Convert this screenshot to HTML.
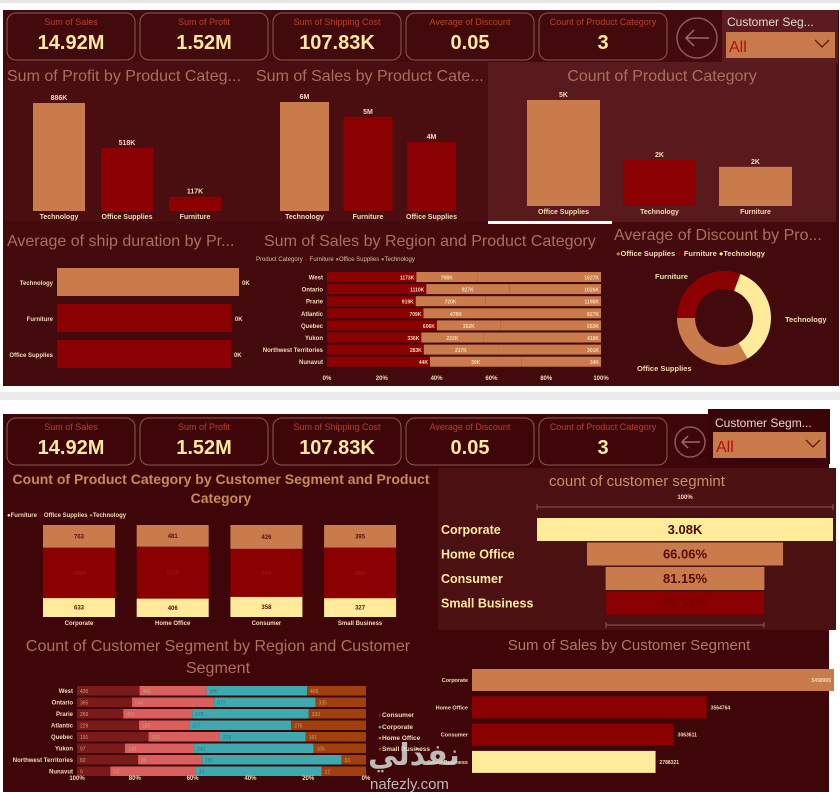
<!DOCTYPE html>
<html><head><meta charset="utf-8"><style>
html,body{margin:0;padding:0;background:#fff;width:840px;height:792px;overflow:hidden}
svg{display:block;font-family:"Liberation Sans","DejaVu Sans",sans-serif}
.lbl{font-size:9px;fill:#b8412a;text-anchor:middle}
.val{font-size:20px;font-weight:bold;fill:#ffe8a0;text-anchor:middle}
.ttl{font-size:16px;fill:#a8705f}
.cat{font-size:7px;font-weight:bold;fill:#f3dcb4}
</style></head><body>
<svg id="s" width="840" height="792" viewBox="0 0 840 792">
<rect x="0" y="0" width="840" height="3" fill="#e6e6e6"/>
<rect x="3" y="10" width="836" height="376" fill="#420a0d"/>
<rect x="5" y="62" width="483" height="160" fill="#4a0d10"/>
<rect x="488" y="62" width="348" height="160" fill="#581a1c"/>
<rect x="488" y="221" width="124" height="3" fill="#fff"/>
<rect x="0" y="392" width="840" height="8" fill="#ececec"/>
<rect x="3" y="414" width="826" height="378" fill="#3e0609"/>
<rect x="438" y="468" width="398" height="162" fill="#4a1012"/>
<rect x="708" y="409" width="122" height="55" fill="#3a0508"/>
<rect x="722" y="10" width="116" height="53" fill="#5a1c20"/>

<g id="kpiTop"></g>
<g id="kpiBot"></g>

<g><circle cx="697" cy="38" r="20" fill="none" stroke="#8a5a5a" stroke-width="1.5"/><path d="M709 38 H686 M694 30 L686 38 L694 46" fill="none" stroke="#9a6a6a" stroke-width="1.5"/></g>
<text x="727" y="26" font-size="12" fill="#e6d6d6">Customer Seg...</text>
<g><rect x="726" y="32" width="109" height="26" fill="#c97a4a"/><text x="729" y="52" font-size="16" fill="#b01010">All</text><path d="M815 40 L822 47 L829 40" fill="none" stroke="#5a1a10" stroke-width="1.3"/></g>

<g><circle cx="690" cy="442" r="15" fill="none" stroke="#8a5a5a" stroke-width="1.5"/><path d="M700 442 H682 M688 436 L682 442 L688 448" fill="none" stroke="#9a6a6a" stroke-width="1.5"/></g>
<text x="715" y="427" font-size="12" fill="#e6d6d6">Customer Segm...</text>
<g><rect x="713" y="432" width="113" height="26" fill="#c97a4a"/><text x="716" y="452" font-size="16" fill="#b01010">All</text><path d="M806 440 L813 447 L820 440" fill="none" stroke="#5a1a10" stroke-width="1.3"/></g>

<text class="ttl" x="7" y="81">Sum of Profit by Product Categ...</text>
<text class="ttl" x="256" y="81">Sum of Sales by Product Cate...</text>
<text class="ttl" x="662" y="81" text-anchor="middle">Count of Product Category</text>
<text class="ttl" x="7" y="246">Average of ship duration by Pr...</text>
<text class="ttl" x="264" y="246">Sum of Sales by Region and Product Category</text>
<text class="ttl" x="614" y="240">Average of Discount by Pro...</text>
<text x="256" y="261" font-size="6" fill="#d8c0a0">Product Category <tspan fill="#8b0000">●</tspan> Furniture <tspan fill="#c97b4b">●</tspan>Office Supplies <tspan fill="#c97b4b">●</tspan>Technology</text>
<text x="616" y="256" font-size="7.5" font-weight="bold" fill="#f3dcb4"><tspan fill="#c97b4b">●</tspan>Office Supplies <tspan fill="#8b0000">●</tspan> Furniture <tspan fill="#ffeb99">●</tspan>Technology</text>

<text x="221" y="484" font-size="14" font-weight="bold" fill="#c98a5a" text-anchor="middle">Count of Product Category by Customer Segment and Product</text>
<text x="221" y="503" font-size="14" font-weight="bold" fill="#c98a5a" text-anchor="middle">Category</text>
<text x="7" y="517" font-size="6" font-weight="bold" fill="#f3dcb4"><tspan fill="#ffeb99">●</tspan>Furniture <tspan fill="#8b0000">●</tspan> Office Supplies <tspan fill="#c97b4b">●</tspan>Technology</text>
<text x="637" y="486" font-size="15" fill="#c9906a" text-anchor="middle">count of customer segmint</text>
<text x="629" y="650" font-size="15" fill="#b07a68" text-anchor="middle">Sum of Sales by Customer Segment</text>
<text x="218" y="651" font-size="16" fill="#b07060" text-anchor="middle">Count of Customer Segment by Region and Customer</text>
<text x="218" y="673" font-size="16" fill="#b07060" text-anchor="middle">Segment</text>
<g font-size="6.5" font-weight="bold" fill="#f3dcb4">
<text x="378" y="717"><tspan fill="#7a1a1a">●</tspan>Consumer</text>
<text x="378" y="729"><tspan fill="#3fa9b0">●</tspan>Corporate</text>
<text x="378" y="740"><tspan fill="#d9605e">●</tspan>Home Office</text>
<text x="378" y="751"><tspan fill="#a0400e">●</tspan>Small Business</text></g>
<g id="charts"></g>
<text x="368" y="765" font-size="30" font-weight="bold" fill="#d8d8d8" fill-opacity="0.85">نفذلي</text>
<text x="370" y="789" font-size="15" fill="#d8d8d8" fill-opacity="0.85">nafezly.com</text>
</svg>
<script>
// ---- data ----
const kpiLabels=['Sum of Sales','Sum of Profit','Sum of Shipping Cost','Average of Discount','Count of Product Category'];
const kpiValues=['14.92M','1.52M','107.83K','0.05','3'];
const profitCats=['Technology','Office Supplies','Furniture'];
const profitVals=[886,518,117];
const profitLbls=['886K','518K','117K'];
const salesCats=['Technology','Furniture','Office Supplies'];
const salesVals=[5.98,5.17,3.78];
const salesLbls=['6M','5M','4M'];
const countCats=['Office Supplies','Technology','Furniture'];
const countVals=[4.6,2.0,1.7];
const countLbls=['5K','2K','2K'];
const shipCats=['Technology','Furniture','Office Supplies'];
const shipVals=[2.04,1.96,1.95];
const shipLbls=['0K','0K','0K'];
const regions=['West','Ontario','Prarie','Atlantic','Quebec','Yukon','Northwest Territories','Nunavut'];
const regFurn=[1173,1110,919,709,606,336,283,44];
const regOffice=[798,927,720,478,352,222,217,39];
const regTech=[1627,1026,1198,827,553,418,301,34];
const axisPct=['0%','20%','40%','60%','80%','100%'];
const discCats=['Furniture','Technology','Office Supplies'];
const discVals=[0.046,0.054,0.050];
const segs=['Corporate','Home Office','Consumer','Small Business'];
const segTech=[763,481,426,395];
const segOffice=[1684,1148,856,880];
const segFurn=[633,406,358,327];
const funnelVals=[3080,2040,1652,1645];
const funnelLbls=['3.08K','66.06%','81.15%','99.58%'];
const segSales=[5498905,3564764,3063611,2788321];
const consumer=[430,365,269,229,191,97,82,9];
const homeOffice=[460,544,401,185,191,140,86,23];
const corporate=[690,672,678,377,229,242,187,34];
const smallBiz=[405,335,333,276,161,106,33,12];
const axisPctRev=['100%','80%','60%','40%','20%','0%'];

const NS='http://www.w3.org/2000/svg';
const G=document.getElementById('charts');
function mk(tag,a,p){const e=document.createElementNS(NS,tag);for(const k in a)e.setAttribute(k,a[k]);(p||G).appendChild(e);return e;}
function tx(x,y,s,a,p){const e=mk('text',Object.assign({x:x,y:y},a),p);e.textContent=s;return e;}
const OR='#c97b4b',RD='#8b0000',YL='#ffeb99',TXT='#f3dcb4';

// KPI cards
[['kpiTop',13],['kpiBot',418]].forEach(([id,y0])=>{
  const g=document.getElementById(id);
  kpiLabels.forEach((l,i)=>{
    const x=7+i*133;
    const r=mk('rect',{x:x,y:y0,width:128,height:47,rx:9,fill:'none',stroke:'#8a5a50','stroke-width':1},g);
    
    
    const t=tx(x+64,y0+12,l,{class:'lbl'},g);
    
    
    const v=tx(x+64,y0+36,kpiValues[i],{class:'val'},g);
    
    
  });
});

// vertical bar chart helper
function vbars(cats,vals,lbls,base,maxH,maxV,x0,step,w,colors,name){
  cats.forEach((c,i)=>{
    const h=vals[i]/maxV*maxH,x=x0+i*step;
    const b=mk('rect',{x:x,y:base-h,width:w,height:h,fill:colors[i]});
    
    
    const l=tx(x+w/2,base-h-3,lbls[i],{'font-size':7,'font-weight':'bold',fill:TXT,'text-anchor':'middle'});
    
    
    const cl=tx(x+w/2,base+8,c,{'font-size':7,'font-weight':'bold',fill:TXT,'text-anchor':'middle'});
    
    
  });
}
vbars(profitCats,profitVals,profitLbls,211,108,886,33,68,52,[OR,RD,RD],'profit');
vbars(salesCats,salesVals,salesLbls,211,109,5.98,280,63.5,49,[OR,RD,RD],'sales');
vbars(countCats,countVals,countLbls,206,106,4.6,527,96,73,[OR,RD,OR],'count');

// ship duration
shipCats.forEach((c,i)=>{
  const y=268+i*36,w=shipVals[i]/2.04*182;
  const b=mk('rect',{x:57,y:y,width:w,height:28,fill:i==0?OR:RD});
  
  
  const l=tx(53,y+17,c,{'font-size':6,'font-weight':'bold',fill:TXT,'text-anchor':'end'});
  
  
  const v=tx(57+w+3,y+17,shipLbls[i],{'font-size':6,'font-weight':'bold',fill:TXT});
  
  
});

// region 100% stacked
const rx0=327,rw=274;
regions.forEach((r,i)=>{
  const y=272+i*12.1,tot=regFurn[i]+regOffice[i]+regTech[i];
  const fw=regFurn[i]/tot*rw,ow=regOffice[i]/tot*rw,tw=regTech[i]/tot*rw;
  const a=mk('rect',{x:rx0,y:y,width:fw,height:10,fill:RD});
  
  
  const b=mk('rect',{x:rx0+fw,y:y,width:ow,height:10,fill:OR});
  
  
  const c=mk('rect',{x:rx0+fw+ow,y:y,width:tw,height:10,fill:OR});
  
  
  const l=tx(323,y+7.5,r,{'font-size':6,'font-weight':'bold',fill:TXT,'text-anchor':'end'});
  
  
  const t1=tx(rx0+fw-2,y+7.5,regFurn[i]+'K',{'font-size':5,'font-weight':'bold',fill:TXT,'text-anchor':'end'});
  
  
  const t2=tx(rx0+fw+ow/2,y+7.5,regOffice[i]+'K',{'font-size':5,'font-weight':'bold',fill:TXT,'text-anchor':'middle'});
  
  
  const t3=tx(rx0+rw-2,y+7.5,regTech[i]+'K',{'font-size':5,'font-weight':'bold',fill:TXT,'text-anchor':'end'});
  
  
});
axisPct.forEach((p,i)=>{
  const t=tx(rx0+i*rw/5,380,p,{'font-size':6,'font-weight':'bold',fill:TXT,'text-anchor':'middle'});
  
  
});

// donut
(function(){
  const cx=724,cy=318,R=47,r=29,tot=discVals.reduce((a,b)=>a+b,0);
  let ang=-Math.PI; const cols=[RD,YL,OR];
  discVals.forEach((v,i)=>{
    const a2=ang+v/tot*2*Math.PI,lg=(a2-ang)>Math.PI?1:0;
    const p=(rr,a)=>[cx+rr*Math.sin(a+Math.PI/2)*-1*-1,cy-rr*Math.cos(a+Math.PI/2)];
    const P=(rr,a)=>[cx+rr*Math.cos(a),cy+rr*Math.sin(a)];
    const [x1,y1]=P(R,ang),[x2,y2]=P(R,a2),[x3,y3]=P(r,a2),[x4,y4]=P(r,ang);
    const s=mk('path',{d:`M${x1} ${y1} A${R} ${R} 0 ${lg} 1 ${x2} ${y2} L${x3} ${y3} A${r} ${r} 0 ${lg} 0 ${x4} ${y4}Z`,fill:cols[i]});
    
    
    ang=a2;
  });
  const lp=[[655,279,'start'],[785,322,'start'],[637,371,'start']];
  discCats.forEach((c,i)=>{
    const t=tx(lp[i][0],lp[i][1],c,{'font-size':7.5,'font-weight':'bold',fill:TXT});
    
    
  });
})();

// segment 100% stacked columns
segs.forEach((s,i)=>{
  const x=43+i*93.7,top=525,H=92,tot=segTech[i]+segOffice[i]+segFurn[i];
  const th=segTech[i]/tot*H,oh=segOffice[i]/tot*H,fh=segFurn[i]/tot*H;
  const a=mk('rect',{x:x,y:top,width:72,height:th,fill:OR});
  
  
  const b=mk('rect',{x:x,y:top+th,width:72,height:oh,fill:RD});
  
  
  const c=mk('rect',{x:x,y:top+th+oh,width:72,height:fh,fill:YL});
  
  
  [[segTech[i],top+th/2,'#5a1010'],[segOffice[i],top+th+oh/2,'#a01010'],[segFurn[i],top+th+oh+fh/2,'#5a1010']].forEach(([v,yy,col])=>{
    const t=tx(x+36,yy+2,String(v),{'font-size':6,'font-weight':'bold',fill:col,'text-anchor':'middle'});
    
    
  });
  const l=tx(x+36,625,s,{'font-size':6,'font-weight':'bold',fill:TXT,'text-anchor':'middle'});
  
  
});

// funnel
(function(){
  const cx=685,maxW=296;
  mk('path',{d:'M537 504 V510 M537 507 H833 M833 504 V510',stroke:'#8a5a5a',fill:'none'});
  const t0=tx(685,499,'100%',{'font-size':6,'font-weight':'bold',fill:TXT,'text-anchor':'middle'});
  
  
  const cols=[YL,OR,OR,RD],tcols=['#4a0a0a','#5a0a0a','#5a0a0a','#7a0000'];
  segs.forEach((s,i)=>{
    const w=funnelVals[i]/funnelVals[0]*maxW,y=518+i*24.5;
    const b=mk('rect',{x:cx-w/2,y:y,width:w,height:23,fill:cols[i]});
    
    
    const v=tx(cx,y+16,funnelLbls[i],{'font-size':13,'font-weight':'bold',fill:tcols[i],'text-anchor':'middle'});
    
    
    const l=tx(441,y+16,s,{'font-size':12.5,'font-weight':'bold',fill:'#ffe8a0'});
    
    
  });
  const wl=funnelVals[3]/funnelVals[0]*maxW;
  mk('path',{d:`M${cx-wl/2} 622 V628 M${cx-wl/2} 625 H${cx+wl/2} M${cx+wl/2} 622 V628`,stroke:'#8a5a5a',fill:'none'});
})();

// sales by segment
(function(){
  const x0=472,maxW=362,cols=[OR,RD,RD,YL];
  segs.forEach((s,i)=>{
    const w=segSales[i]/segSales[0]*maxW,y=669+i*27.3;
    const b=mk('rect',{x:x0,y:y,width:w,height:22,fill:cols[i]});
    
    
    const inside=i==0;
    const v=tx(inside?x0+w-3:x0+w+4,y+13,String(segSales[i]),{'font-size':5,'font-weight':'bold',fill:TXT,'text-anchor':inside?'end':'start'});
    
    
    const l=tx(468,y+13,s,{'font-size':5.5,'font-weight':'bold',fill:TXT,'text-anchor':'end'});
    
    
  });
})();

// region by segment
(function(){
  const x0=77,W=289,cols=['#7a1a1a','#d9605e','#3fa9b0','#a0400e'];
  regions.forEach((r,i)=>{
    const y=686+i*11.5,vals=[consumer[i],homeOffice[i],corporate[i],smallBiz[i]],tot=vals.reduce((a,b)=>a+b,0);
    let x=x0;
    vals.forEach((v,k)=>{
      const w=v/tot*W;
      const b=mk('rect',{x:x,y:y,width:w,height:9.5,fill:cols[k]});
      
      
      const t=tx(x+3,y+7,String(v),{'font-size':5,fill:k==2?'#2a7a80':'#c9a070'});
      
      
      x+=w;
    });
    const l=tx(73,y+7,r,{'font-size':6,'font-weight':'bold',fill:TXT,'text-anchor':'end'});
    
    
  });
  axisPctRev.forEach((p,i)=>{
    const t=tx(x0+i*W/5,780,p,{'font-size':6,'font-weight':'bold',fill:TXT,'text-anchor':'middle'});
    
    
  });
})();
</script>
</body></html>
